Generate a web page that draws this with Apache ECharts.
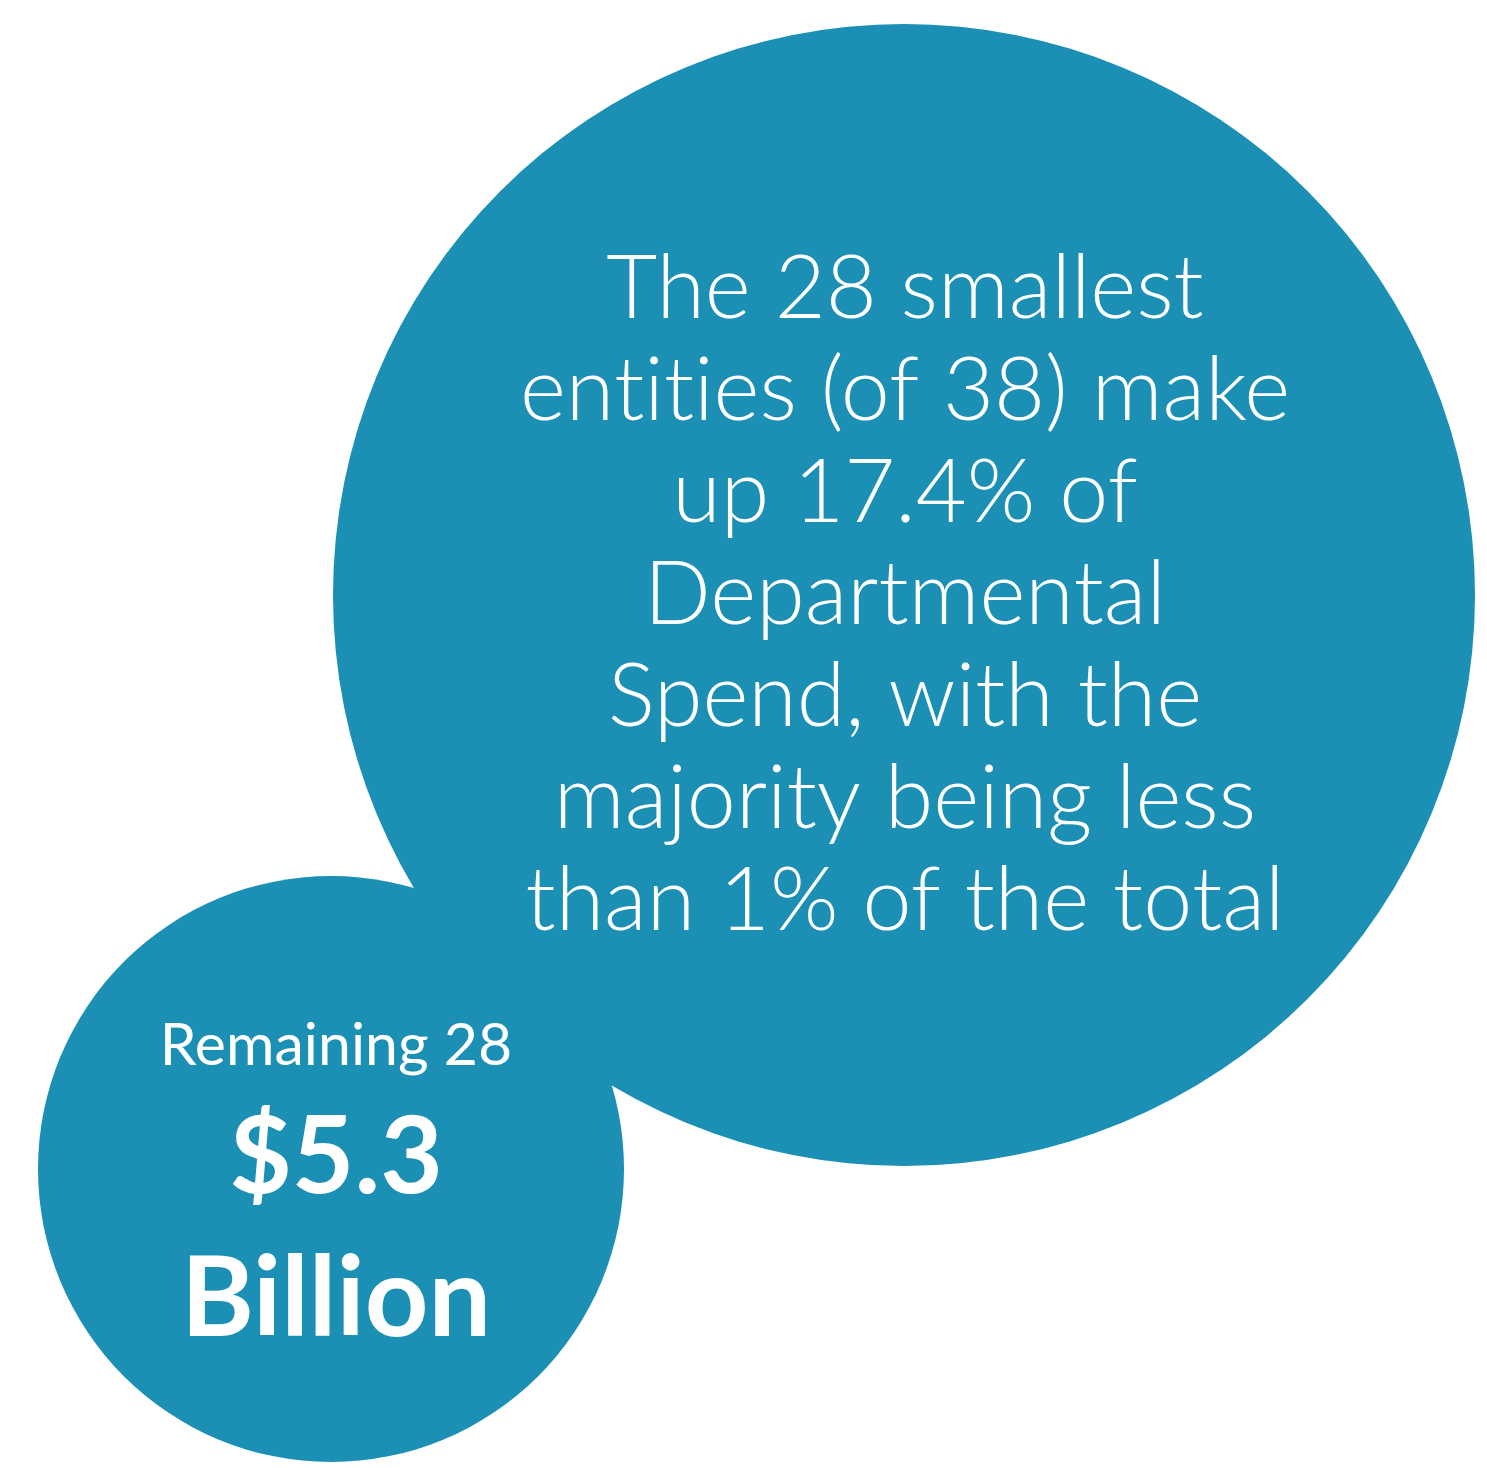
<!DOCTYPE html>
<html>
<head>
<meta charset="utf-8">
<script src="https://cdn.jsdelivr.net/npm/echarts@6/dist/echarts.min.js"></script>
<style>
  html, body { margin: 0; padding: 0; background: #ffffff; }
  #chart { width: 1487px; height: 1468px; }
</style>
</head>
<body>
<div id="chart"></div>
<script>
// Bubble callouts: position (x, y) and radius in the plot's units
const bubbleNames = ['Smallest entities note', 'Remaining 28'];
const bubbleX = [904, 331];
const bubbleY = [595, 1169];
const bubbleRadius = [571, 293];

// Text shown inside each bubble
const noteLines = [
  'The 28 smallest',
  'entities (of 38) make',
  'up 17.4% of',
  'Departmental',
  'Spend, with the',
  'majority being less',
  'than 1% of the total'
];
const remainingTitle = 'Remaining 28';
const remainingAmount = '$5.3';
const remainingUnit = 'Billion';

const bubbleColor = '#1b8fb4';

const chart = echarts.init(document.getElementById('chart'), null, { renderer: 'canvas' });

const noteStyle = { color: '#ffffff', fontFamily: 'Lato', fontWeight: 300, fontSize: 88, lineHeight: 102 };

// Draw each "t" as its own text token so the font's "ti" ligature is not applied
function noteRich(line) {
  return line.split('t').map(s => s === '' ? '' : '{n|' + s + '}').join('{n|t}');
}

const data = bubbleNames.map((name, i) => ({
  name: name,
  value: [bubbleX[i], bubbleY[i], bubbleRadius[i]]
}));

data[0].label = {
  show: true,
  position: 'inside',
  formatter: noteLines.map(noteRich).join('\n'),
  color: '#ffffff',
  fontFamily: 'Lato',
  fontWeight: 300,
  fontSize: 88,
  lineHeight: 102,
  align: 'center',
  offset: [1, 1],
  rich: { n: noteStyle }
};
data[1].label = {
  show: true,
  position: 'inside',
  formatter: '{t|' + remainingTitle + '}\n{a|' + remainingAmount + '}\n{u|' + remainingUnit + '}',
  align: 'center',
  offset: [5, 19],
  rich: {
    t: { color: '#ffffff', fontFamily: 'Lato', fontWeight: 400, fontSize: 59, lineHeight: 104, align: 'center' },
    a: { color: '#ffffff', fontFamily: 'Lato', fontWeight: 700, fontSize: 108, lineHeight: 120, align: 'center' },
    u: { color: '#ffffff', fontFamily: 'Lato', fontWeight: 700, fontSize: 111, lineHeight: 164, align: 'center' }
  }
};

const option = {
  backgroundColor: '#ffffff',
  animation: false,
  grid: { left: 0, right: 0, top: 0, bottom: 0 },
  xAxis: { type: 'value', min: 0, max: 1487, show: false },
  yAxis: { type: 'value', min: 0, max: 1468, inverse: true, show: false },
  series: [{
    type: 'scatter',
    symbol: 'circle',
    // radius is in axis units; the grid spans the full canvas, so one unit is one pixel
    symbolSize: function (val) {
      const p0 = chart.convertToPixel({ gridIndex: 0 }, [0, 0]);
      const p1 = chart.convertToPixel({ gridIndex: 0 }, [val[2], 0]);
      const r = p0 && p1 ? Math.abs(p1[0] - p0[0]) : val[2];
      return 2 * r;
    },
    itemStyle: { color: bubbleColor, opacity: 1 },
    emphasis: { disabled: true },
    data: data
  }]
};

chart.setOption(option);
</script>
</body>
</html>
